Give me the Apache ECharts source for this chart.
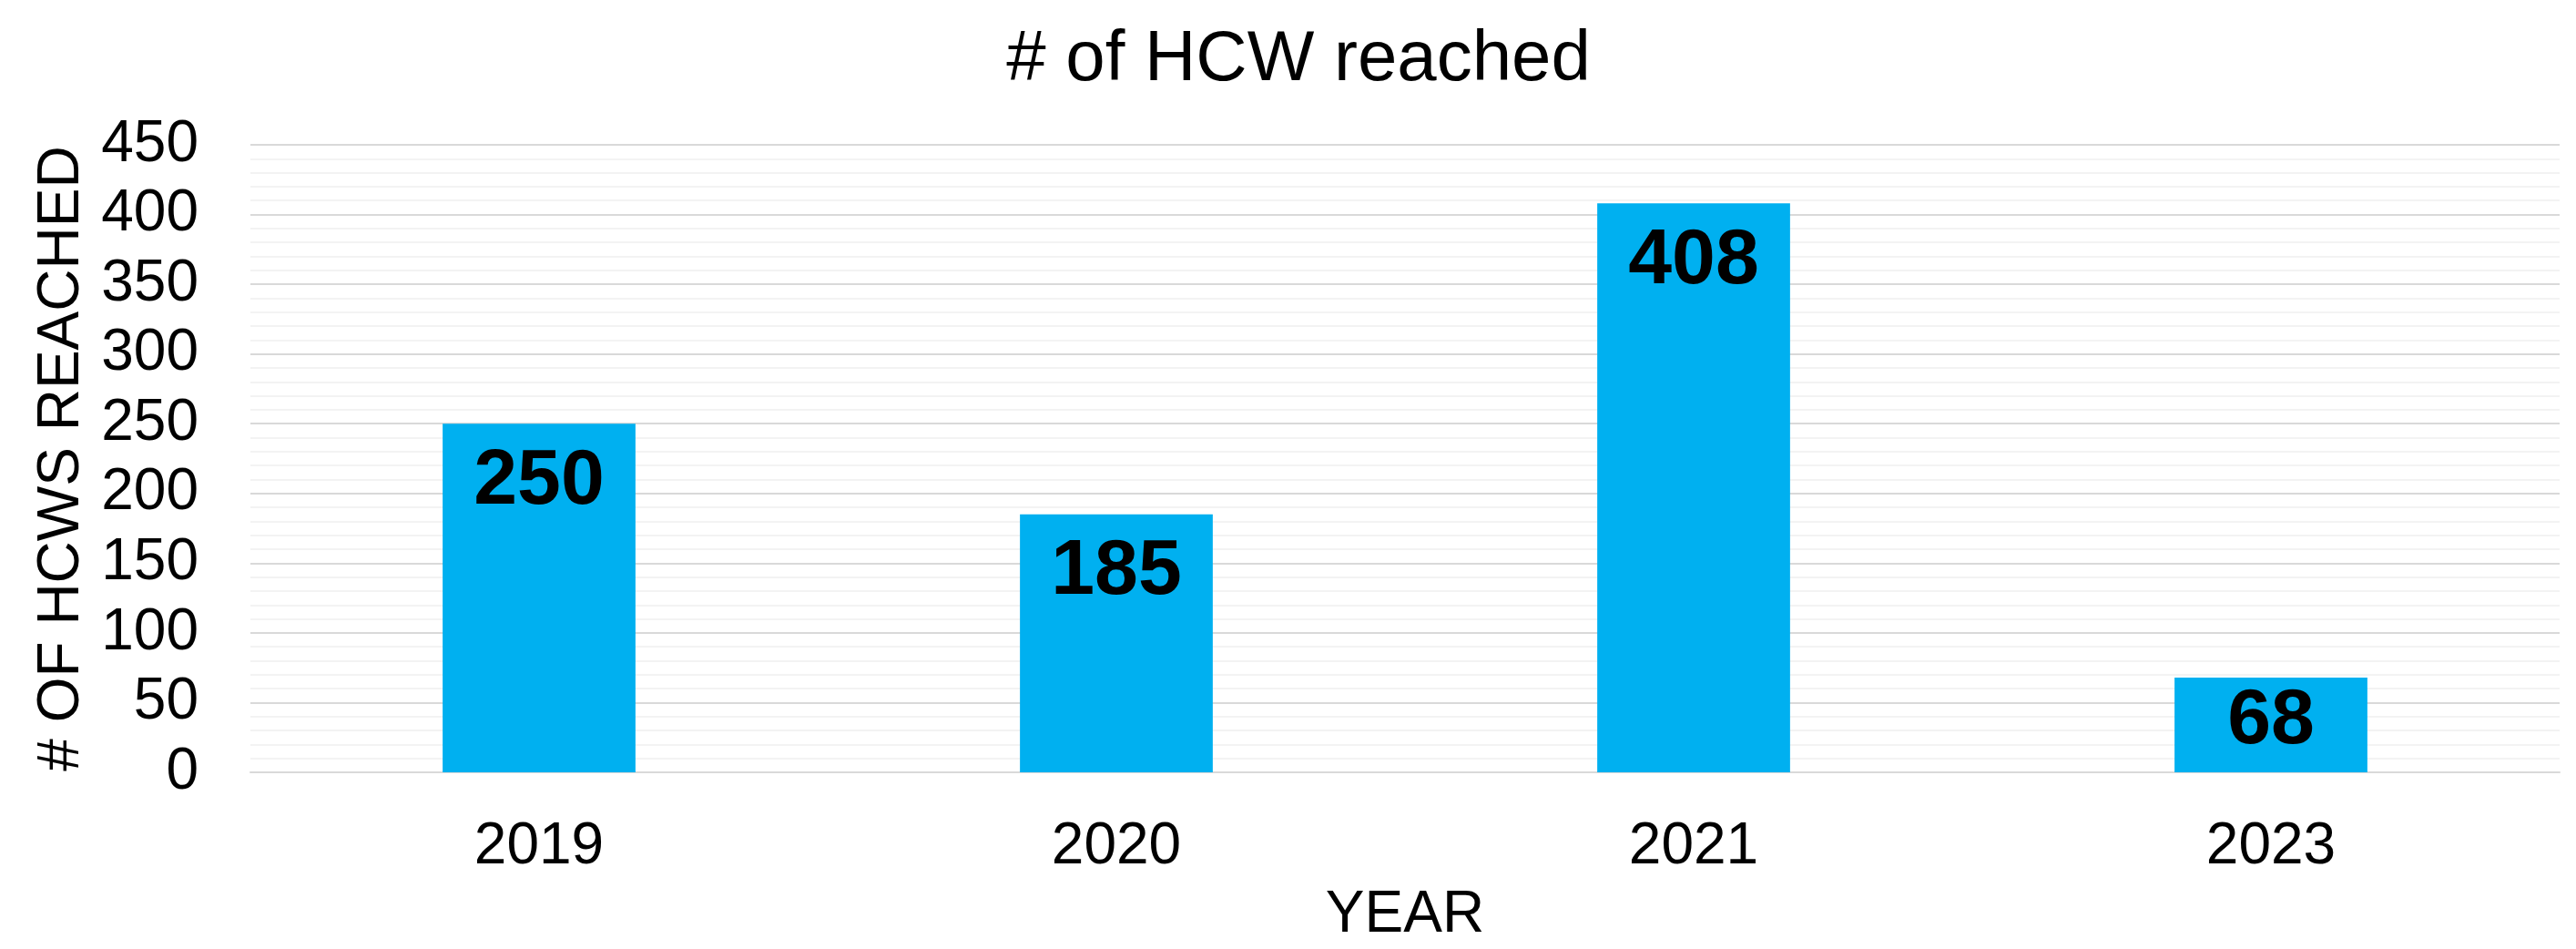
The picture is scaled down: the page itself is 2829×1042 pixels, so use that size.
<!DOCTYPE html>
<html>

<head>
    <meta charset="UTF-8">
    <title># of HCW reached</title>
    <script src="https://cdn.jsdelivr.net/npm/echarts@6/dist/echarts.min.js"></script>
    <style>
        html, body { margin: 0; padding: 0; background: #fff; }
        #chart { width: 2829px; height: 1042px; }
    </style>
</head>

<body>
    <div id="chart"></div>

    <script>
        // data
        var years = ['2019', '2020', '2021', '2023'];
        var hcwReached = [250, 185, 408, 68];
        var yTicks = { min: 0, max: 450, step: 50 };

        var font = '"Liberation Sans", Arial, sans-serif';

        var myChart = echarts.init(document.getElementById('chart'), null, { renderer: 'canvas' });

        var barData = hcwReached.map(function (v) {
            // the short bar gets its label pushed up, like in the original
            if (v < 100) {
                return { value: v, label: { distance: 5 } };
            }
            return v;
        });

        var option = {
            backgroundColor: '#ffffff',
            animation: false,
            title: {
                text: '# of HCW reached',
                left: 1421,
                textAlign: 'center',
                top: 22,
                textStyle: {
                    fontFamily: font,
                    fontSize: 78,
                    fontWeight: 'normal',
                    color: '#000'
                }
            },
            grid: {
                left: 275,
                right: 18,
                top: 159,
                bottom: 191
            },
            xAxis: {
                type: 'category',
                data: years,
                name: 'YEAR',
                nameLocation: 'middle',
                nameGap: 125,
                nameTextStyle: { fontFamily: font, fontSize: 64, color: '#000' },
                axisLine: { show: true, lineStyle: { color: '#d9d9d9', width: 2 } },
                axisTick: { show: false },
                axisLabel: { fontFamily: font, fontSize: 64, color: '#000', margin: 50 }
            },
            yAxis: {
                type: 'value',
                min: yTicks.min,
                max: yTicks.max,
                interval: yTicks.step,
                name: '# OF HCWS REACHED',
                nameLocation: 'middle',
                nameGap: 174,
                nameTextStyle: { fontFamily: font, fontSize: 64, color: '#000' },
                axisLine: { show: false },
                axisTick: { show: false },
                axisLabel: { fontFamily: font, fontSize: 64, color: '#000', margin: 57 },
                splitLine: { show: true, lineStyle: { color: '#d9d9d9', width: 2 } },
                minorTick: { show: false, splitNumber: 5 },
                minorSplitLine: { show: true, lineStyle: { color: '#efefef', width: 1.5 } }
            },
            series: [
                {
                    name: '# of HCW reached',
                    type: 'bar',
                    data: barData,
                    barWidth: '33.4%',
                    itemStyle: { color: '#00b0f0' },
                    label: {
                        show: true,
                        position: 'insideTop',
                        distance: 21,
                        fontFamily: font,
                        fontSize: 86,
                        fontWeight: 'bold',
                        color: '#000'
                    }
                }
            ]
        };

        myChart.setOption(option);

        window.addEventListener('resize', function () {
            myChart.resize();
        });
    </script>
</body>

</html>
